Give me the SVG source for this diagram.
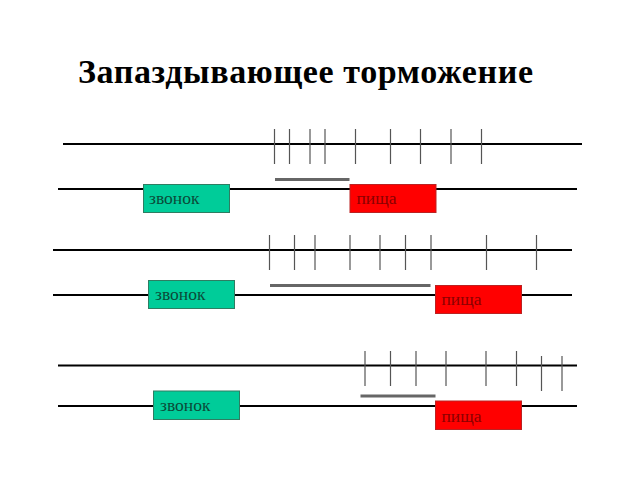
<svg xmlns="http://www.w3.org/2000/svg" width="640" height="480" viewBox="0 0 640 480">
<style>
.axis{stroke:#000;stroke-width:2}
.tick{stroke:#555;stroke-width:1.2}
.bar{stroke:#666;stroke-width:3}
.bell{fill:#00cc99;stroke:#2e7d62;stroke-width:1}
.food{fill:#ff0000;stroke:#b22;stroke-width:1}
.lbell{fill:#0b4a38}
.lfood{fill:#8a0000}
</style>
<rect width="640" height="480" fill="#fff"/>
<text x="78" y="83" font-family="'Liberation Serif', serif" font-size="34" font-weight="bold" fill="#000" textLength="455" lengthAdjust="spacing">Запаздывающее торможение</text>
<g id="connectors">
<line class="axis" x1="63" y1="144" x2="582" y2="144"/>
<line class="axis" x1="58" y1="189" x2="577" y2="189"/>
<line class="axis" x1="53" y1="250" x2="572" y2="250"/>
<line class="axis" x1="53" y1="295" x2="572" y2="295"/>
<line class="axis" x1="58" y1="365.5" x2="577" y2="365.5"/>
<line class="axis" x1="58" y1="406" x2="577" y2="406"/>
<g id="ticks1">
<line class="tick" x1="274.5" y1="129" x2="274.5" y2="164"/>
<line class="tick" x1="289.5" y1="129" x2="289.5" y2="164"/>
<line class="tick" x1="310" y1="129" x2="310" y2="164"/>
<line class="tick" x1="325" y1="129" x2="325" y2="164"/>
<line class="tick" x1="355.5" y1="129" x2="355.5" y2="164"/>
<line class="tick" x1="390.5" y1="129" x2="390.5" y2="164"/>
<line class="tick" x1="420.5" y1="129" x2="420.5" y2="164"/>
<line class="tick" x1="451" y1="129" x2="451" y2="164"/>
<line class="tick" x1="481.5" y1="129" x2="481.5" y2="164"/>
</g>
<g id="ticks2">
<line class="tick" x1="269.5" y1="235" x2="269.5" y2="270"/>
<line class="tick" x1="294.5" y1="235" x2="294.5" y2="270"/>
<line class="tick" x1="315" y1="235" x2="315" y2="270"/>
<line class="tick" x1="350" y1="235" x2="350" y2="270"/>
<line class="tick" x1="380" y1="235" x2="380" y2="270"/>
<line class="tick" x1="405.5" y1="235" x2="405.5" y2="270"/>
<line class="tick" x1="431" y1="235" x2="431" y2="270"/>
<line class="tick" x1="486.5" y1="235" x2="486.5" y2="270"/>
<line class="tick" x1="536.5" y1="235" x2="536.5" y2="270"/>
</g>
<g id="ticks3">
<line class="tick" x1="365" y1="351" x2="365" y2="386"/>
<line class="tick" x1="390.5" y1="351" x2="390.5" y2="386"/>
<line class="tick" x1="416" y1="351" x2="416" y2="386"/>
<line class="tick" x1="446" y1="351" x2="446" y2="386"/>
<line class="tick" x1="486" y1="351" x2="486" y2="386"/>
<line class="tick" x1="516.5" y1="351" x2="516.5" y2="386"/>
<line class="tick" x1="541.5" y1="356" x2="541.5" y2="391"/>
<line class="tick" x1="562" y1="356" x2="562" y2="391"/>
</g>
<line class="bar" x1="275" y1="179.5" x2="349.5" y2="179.5"/>
<line class="bar" x1="270" y1="285.5" x2="430.5" y2="285.5"/>
<line class="bar" x1="360.5" y1="396" x2="435.5" y2="396"/>
</g>
<g font-family="'Liberation Serif', serif" font-size="17.5">
<g id="bell1"><rect class="bell" x="143.5" y="184.5" width="86" height="28"/><text class="lbell" x="149" y="204">звонок</text></g>
<g id="food1"><rect class="food" x="350" y="184.5" width="86" height="28"/><text class="lfood" x="356.5" y="204">пища</text></g>
<g id="bell2"><rect class="bell" x="148.5" y="280.5" width="86" height="28"/><text class="lbell" x="155" y="300">звонок</text></g>
<g id="food2"><rect class="food" x="435.5" y="285.5" width="86" height="28"/><text class="lfood" x="441.5" y="305">пища</text></g>
<g id="bell3"><rect class="bell" x="153.5" y="391" width="86" height="28.5"/><text class="lbell" x="160" y="411">звонок</text></g>
<g id="food3"><rect class="food" x="435.5" y="401" width="86" height="28.5"/><text class="lfood" x="441.5" y="421.5">пища</text></g>
</g>
</svg>
